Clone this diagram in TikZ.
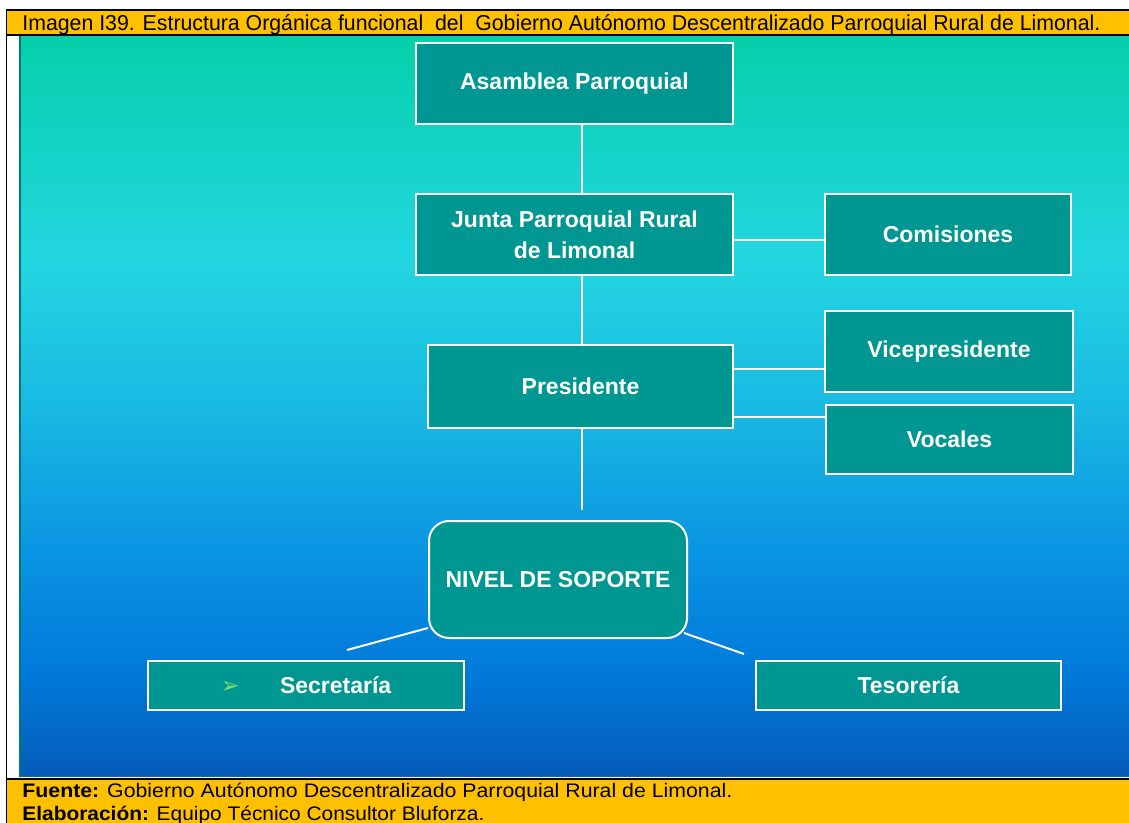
\documentclass[tikz,border=0pt]{standalone}
\usepackage{fontspec}
\setmainfont{Liberation Sans}
\newfontfamily\dejavu{DejaVu Sans}
\usetikzlibrary{positioning,calc}

\definecolor{hdrorange}{RGB}{255,192,0}
\definecolor{boxteal}{RGB}{0,150,146}
\definecolor{edgeteal}{RGB}{0,120,125}
\definecolor{bulletgreen}{RGB}{120,220,110}
\definecolor{bgA}{RGB}{5,208,170}
\definecolor{bgB}{RGB}{35,214,224}
\definecolor{bgC}{RGB}{25,186,226}
\definecolor{bgD}{RGB}{10,148,226}
\definecolor{bgE}{RGB}{0,122,218}
\definecolor{bgF}{RGB}{5,92,186}
\pgfdeclareverticalshading{bgshade}{100bp}{color(0bp)=(bgF); color(25bp)=(bgF); color(32bp)=(bgE); color(40bp)=(bgD); color(50bp)=(bgC); color(60bp)=(bgB); color(75bp)=(bgA); color(100bp)=(bgA)}

\begin{document}
\begin{tikzpicture}[
    x=0.5pt, y=-0.5pt,
    box/.style={draw=white, line width=1pt, fill=boxteal, text=white, inner sep=0pt, align=center,
                font=\bfseries\fontsize{11.5}{15.5}\selectfont},
    link/.style={draw=white, line width=1pt},
    caption/.style={font=\fontsize{10.8}{12}\selectfont, anchor=base west, inner sep=0pt},
    source/.style={font=\fontsize{9.8}{11}\selectfont, anchor=base west, inner sep=0pt},
]
\useasboundingbox (0,0) rectangle (1129,823);

% Frame and bands
\fill[white] (0,0) rectangle (1129,823);
\fill[hdrorange] (7,11) rectangle (1129,35);
\fill[hdrorange] (7,779) rectangle (1129,823);
\fill[edgeteal] (19,36) rectangle (1129,777);
\shade[shading=bgshade] (21,36) rectangle (1129,775);
\draw[line width=1pt] (6,10) -- (1129,10);
\draw[line width=1pt] (7,35) -- (1129,35);
\draw[line width=1pt] (7,778.5) -- (1129,778.5);
\draw[line width=0.8pt] (6.5,10) -- (6.5,823);

% Title
\node[caption] (titulo) at (22,31) {\resizebox{539pt}{\height}{Imagen I39. Estructura Orgánica funcional\ \ del\ \ Gobierno Autónomo Descentralizado Parroquial Rural de Limonal.}};

% Upper levels
\node[box, minimum width=158.5pt, minimum height=40.5pt] (asamblea) at (574.5,83.5) {Asamblea Parroquial};
\node[box, minimum width=158.5pt, minimum height=40.5pt] (junta) at (574.5,234.5) {Junta Parroquial Rural\\de Limonal};
\node[box, minimum width=123pt, minimum height=40.5pt] (comisiones) at (948,234.5) {Comisiones};

% Executive level
\node[box, minimum width=152.5pt, minimum height=41.5pt] (presidente) at (580.5,386.5) {Presidente};
\node[box, minimum width=124pt, minimum height=40.5pt] (vice) at (949,351.5) {Vicepresidente};
\node[box, minimum width=123.5pt, minimum height=34.5pt] (vocales) at (949.5,439.5) {Vocales};

% Support level
\node[box, rounded corners=10pt, minimum width=129pt, minimum height=58.5pt] (nivel) at (558,579.5) {NIVEL DE SOPORTE};
\node[box, minimum width=158pt, minimum height=24.5pt] (secretaria) at (306,685.5) {{\dejavu\mdseries\color{bulletgreen}➢}\hspace{20pt}Secretaría};
\node[box, minimum width=152.5pt, minimum height=24.5pt] (tesoreria) at (908.5,685.5) {Tesorería};

% Connectors
\coordinate (trunk) at (582,0);
\draw[link] (asamblea.south -| trunk) -- (junta.north -| trunk);
\draw[link] (junta.south -| trunk) -- (presidente.north -| trunk);
\draw[link, shorten >=5pt] (presidente.south -| trunk) -- (nivel.north -| trunk);
\draw[link] ([yshift=-3pt]junta.east) -- ([yshift=-3pt]comisiones.west);
\draw[link] (presidente.east |- 0,369) -- (vice.west |- 0,369);
\draw[link] (presidente.east |- 0,417) -- (vocales.west |- 0,417);
\draw[link] ($(nivel.south west)+(0,-11)$) -- ($(secretaria.north)+(41,-10)$);
\draw[link] ($(nivel.south east)+(-4,-6)$) -- ($(tesoreria.north west)+(-11,-6)$);

% Source notes
\node[source] (fuente) at (22,797) {\resizebox{355pt}{\height}{\textbf{Fuente:} Gobierno Autónomo Descentralizado Parroquial Rural de Limonal.}};
\node[source] (elaboracion) at (22,820) {\resizebox{231pt}{\height}{\textbf{Elaboración:} Equipo Técnico Consultor Bluforza.}};

\end{tikzpicture}
\end{document}
